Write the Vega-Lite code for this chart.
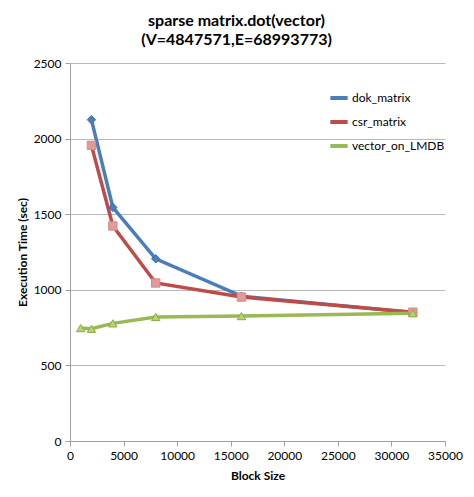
{
  "$schema": "https://vega.github.io/schema/vega-lite/v6.json",
  "autosize": "none",
  "width": 375,
  "height": 378,
  "padding": {"left": 70, "top": 63, "right": 29, "bottom": 56},
  "background": "white",
  "title": {
    "text": ["sparse matrix.dot(vector)", "(V=4847571,E=68993773)"],
    "font": "Lato",
    "fontSize": 16,
    "fontWeight": "bold",
    "color": "black",
    "anchor": "middle",
    "dx": -21,
    "offset": 9,
    "lineHeight": 19
  },
  "data": {
    "values": [
      {"block": 2000, "time": 2125, "series": "dok_matrix"},
      {"block": 4000, "time": 1545, "series": "dok_matrix"},
      {"block": 8000, "time": 1205, "series": "dok_matrix"},
      {"block": 16000, "time": 958, "series": "dok_matrix"},
      {"block": 32000, "time": 850, "series": "dok_matrix"},
      {"block": 2000, "time": 1955, "series": "csr_matrix"},
      {"block": 4000, "time": 1422, "series": "csr_matrix"},
      {"block": 8000, "time": 1045, "series": "csr_matrix"},
      {"block": 16000, "time": 952, "series": "csr_matrix"},
      {"block": 32000, "time": 852, "series": "csr_matrix"},
      {"block": 1000, "time": 747, "series": "vector_on_LMDB"},
      {"block": 2000, "time": 742, "series": "vector_on_LMDB"},
      {"block": 4000, "time": 778, "series": "vector_on_LMDB"},
      {"block": 8000, "time": 820, "series": "vector_on_LMDB"},
      {"block": 16000, "time": 826, "series": "vector_on_LMDB"},
      {"block": 32000, "time": 845, "series": "vector_on_LMDB"}
    ]
  },
  "encoding": {
    "x": {
      "field": "block",
      "type": "quantitative",
      "title": "Block Size",
      "scale": {"domain": [0, 35000], "nice": false},
      "axis": {"values": [0, 5000, 10000, 15000, 20000, 25000, 30000, 35000], "format": "d", "grid": false, "labelFlush": false}
    },
    "y": {
      "field": "time",
      "type": "quantitative",
      "title": "Execution Time (sec)",
      "scale": {"domain": [0, 2500], "nice": false},
      "axis": {"values": [0, 500, 1000, 1500, 2000, 2500], "format": "d", "grid": true}
    }
  },
  "layer": [
    {
      "mark": {"type": "line", "strokeWidth": 3.5},
      "encoding": {
        "color": {
          "field": "series",
          "type": "nominal",
          "sort": ["dok_matrix", "csr_matrix", "vector_on_LMDB"],
          "scale": {"domain": ["dok_matrix", "csr_matrix", "vector_on_LMDB"], "range": ["#4a7ebb", "#be4b48", "#98b954"]},
          "legend": {
            "orient": "none",
            "legendX": 258,
            "legendY": 24,
            "title": null,
            "symbolType": "stroke",
            "labelFont": "Lato",
            "labelFontSize": 12,
            "labelColor": "black",
            "rowPadding": 5,
            "symbolSize": 300,
            "symbolStrokeWidth": 4,
            "labelOffset": 2
          }
        }
      }
    },
    {
      "mark": {"type": "point", "filled": true, "size": 70, "opacity": 1, "strokeWidth": 1},
      "encoding": {
        "shape": {
          "field": "series",
          "type": "nominal",
          "scale": {"domain": ["dok_matrix", "csr_matrix", "vector_on_LMDB"], "range": ["diamond", "square", "triangle-up"]},
          "legend": null
        },
        "fill": {
          "field": "series",
          "type": "nominal",
          "scale": {"domain": ["dok_matrix", "csr_matrix", "vector_on_LMDB"], "range": ["#4a7ebb", "#e09a98", "#b5d66f"]},
          "legend": null
        },
        "stroke": {
          "field": "series",
          "type": "nominal",
          "scale": {"domain": ["dok_matrix", "csr_matrix", "vector_on_LMDB"], "range": ["#3a6ea8", "#d98a88", "#8aab48"]},
          "legend": null
        }
      }
    }
  ],
  "resolve": {"scale": {"color": "independent", "shape": "independent", "fill": "independent", "stroke": "independent"}},
  "config": {
    "view": {"stroke": null},
    "font": "Lato",
    "axis": {
      "labelFont": "Lato",
      "labelFontSize": 12,
      "labelColor": "black",
      "titleFont": "Lato",
      "titleFontSize": 12,
      "titleFontWeight": "bold",
      "titleColor": "black",
      "domainColor": "#a0a0a0",
      "tickColor": "#a0a0a0",
      "gridColor": "#b8b8b8",
      "tickSize": 5,
      "labelPadding": 4
    },
    "axisX": {"titlePadding": 9},
    "axisY": {"titlePadding": 4}
  }
}
